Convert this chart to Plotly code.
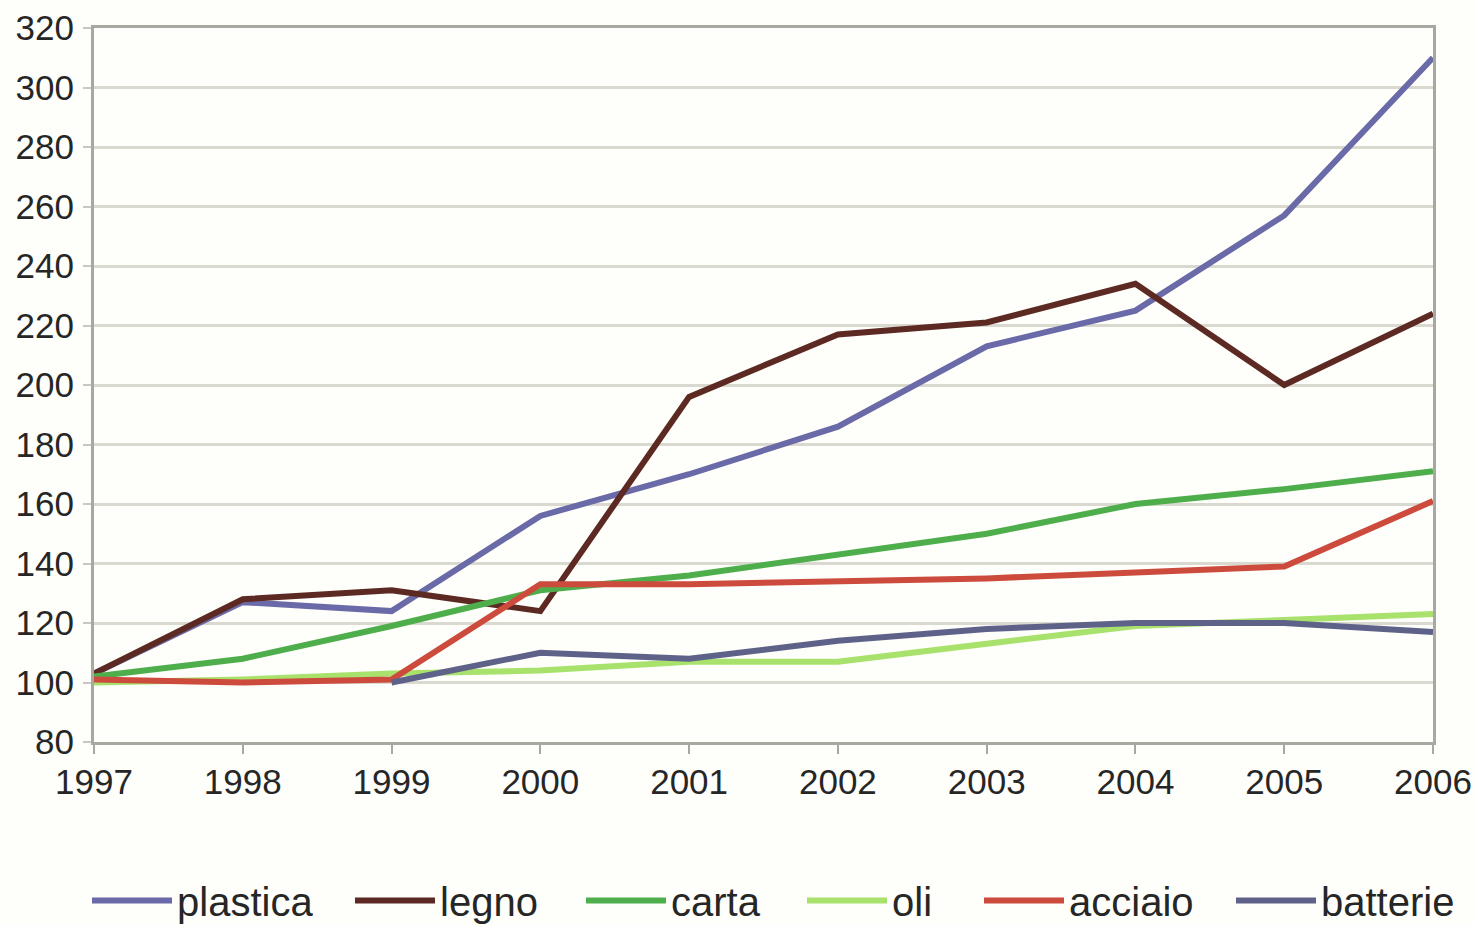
import plotly.graph_objects as go

years = [1997, 1998, 1999, 2000, 2001, 2002, 2003, 2004, 2005, 2006]

plastica = [103, 127, 124, 156, 170, 186, 213, 225, 257, 310]
legno = [103, 128, 131, 124, 196, 217, 221, 234, 200, 224]
carta = [102, 108, 119, 131, 136, 143, 150, 160, 165, 171]
oli = [100, 101, 103, 104, 107, 107, 113, 119, 121, 123]
acciaio = [101, 100, 101, 133, 133, 134, 135, 137, 139, 161]
batterie = [None, None, 100, 110, 108, 114, 118, 120, 120, 117]

series_names = ["plastica", "legno", "carta", "oli", "acciaio", "batterie"]
series_values = [plastica, legno, carta, oli, acciaio, batterie]
series_colors = ["#6b6aa8", "#5c2a22", "#4fae4c", "#a8e26c", "#cc4b3c", "#5f6288"]

y_ticks = [80, 100, 120, 140, 160, 180, 200, 220, 240, 260, 280, 300, 320]

# pixel x where each legend entry starts (layout only)
legend_px = [92, 355, 586, 807, 984, 1236]

W, H = 1475, 926
ML, MR, MT, MB = 94, 42, 28, 184
PW = W - ML - MR

fig = go.Figure()
legend_ids = []
for i, (name, vals, col) in enumerate(zip(series_names, series_values, series_colors)):
    lid = "legend" if i == 0 else f"legend{i + 1}"
    legend_ids.append(lid)
    fig.add_trace(go.Scatter(
        x=years, y=vals, name=name, mode="lines",
        line=dict(color=col, width=6),
        connectgaps=False,
        legend=lid,
    ))

font_family = "Liberation Sans, Arial, sans-serif"

legend_layout = {}
for lid, px in zip(legend_ids, legend_px):
    legend_layout[lid] = dict(
        orientation="h",
        x=(px - 5 - ML) / PW, xanchor="left",
        y=-0.222, yanchor="middle",
        font=dict(size=40, color="#262626", family=font_family),
        bgcolor="rgba(0,0,0,0)",
        itemwidth=80,
    )

fig.update_layout(
    width=W, height=H,
    margin=dict(l=ML, r=MR, t=MT, b=MB, autoexpand=False),
    paper_bgcolor="#fefefa",
    plot_bgcolor="#fefefa",
    font=dict(family=font_family, size=35, color="#262626"),
    showlegend=True,
    xaxis=dict(
        range=[1997, 2006],
        tickmode="array", tickvals=years, ticktext=[str(y) for y in years],
        showgrid=False, zeroline=False, automargin=False,
        showline=True, linecolor="#a8a8a0", linewidth=3, mirror=True,
        ticks="outside", ticklen=9, tickcolor="#a8a8a0", tickwidth=2,
        tickfont=dict(size=35, color="#262626"),
        ticklabelstandoff=-2,
    ),
    yaxis=dict(
        range=[80, 320],
        tickmode="array", tickvals=y_ticks, ticktext=[str(v) for v in y_ticks],
        showgrid=True, gridcolor="#dad9cf", gridwidth=3,
        zeroline=False, automargin=False,
        showline=True, linecolor="#a8a8a0", linewidth=3, mirror=True,
        ticks="outside", ticklen=8, tickcolor="#c8c8c0", tickwidth=2,
        tickfont=dict(size=35, color="#262626"),
        ticklabelstandoff=2,
    ),
    **legend_layout,
)

fig.write_html("out.html")
